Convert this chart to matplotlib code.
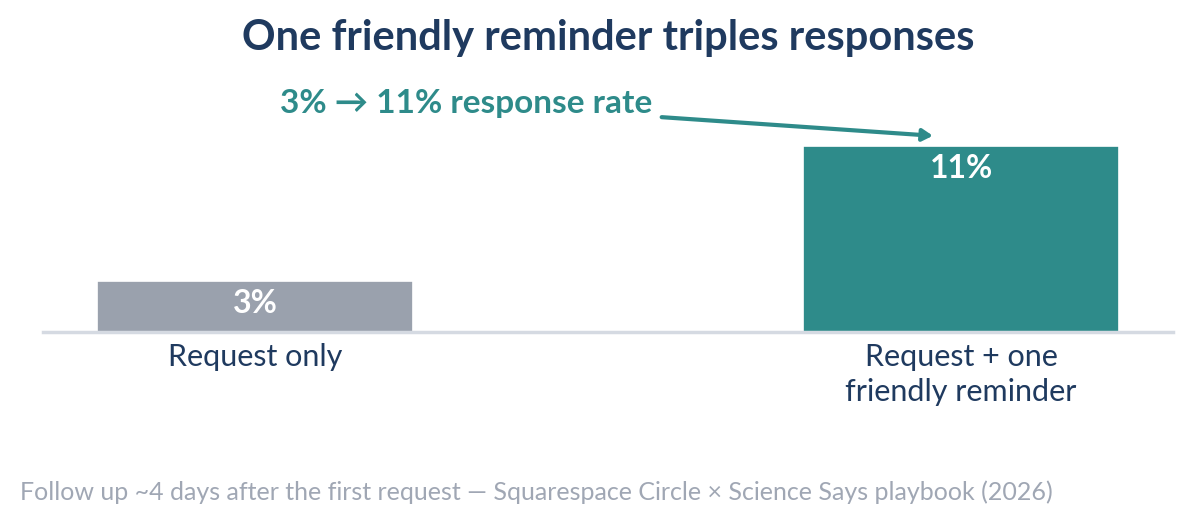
# Bar chart: response rate with / without a friendly reminder
import numpy as np
import matplotlib.pyplot as plt

plt.rcParams['font.family'] = ['Lato', 'DejaVu Sans']

categories = ['Request only', 'Request + one\nfriendly reminder']
rates = [3, 11]  # response rate, %
value_labels = ['3%', '11%']
bar_colors = ['#9aa1ad', '#2e8b8a']

navy = '#1f3a5f'
teal = '#2e8b8a'

fig = plt.figure(figsize=(11.92, 5.24), dpi=100)
W, H = 1192, 524
# axes placed in pixel coords: x 43..1173, baseline at y=332
ax = fig.add_axes([43 / W, (H - 332) / H, (1173 - 43) / W, (332 - 129) / H])

x = np.arange(len(categories))
bars = ax.bar(x, rates, width=0.447, color=bar_colors, edgecolor='white', linewidth=1.2, zorder=2)
ax.set_xlim(-0.3, 1.3)
ax.set_ylim(0, 12)

for spine in ['top', 'right', 'left']:
    ax.spines[spine].set_visible(False)
ax.spines['bottom'].set_color('#d5dae2')
ax.spines['bottom'].set_linewidth(2.5)
ax.set_yticks([])
ax.set_xticks(x)
ax.set_xticklabels(categories, fontsize=22, color=navy, linespacing=1.3)
ax.tick_params(axis='x', length=0, pad=8)

for b, lab in zip(bars, value_labels):
    ax.text(b.get_x() + b.get_width() / 2, b.get_height() - 0.45, lab,
            ha='center', va='top', color='white', fontsize=23, fontweight='bold')

# annotation arrow to the reminder bar
ax.annotate('', xy=(0.96, 11.6), xytext=(0.576, 12.7),
            arrowprops=dict(arrowstyle='-|>,head_length=0.6,head_width=0.35', color=teal, lw=3,
                            shrinkA=0, shrinkB=0), annotation_clip=False)
fig.text(466 / W, 1 - 103 / H, '3% \u2192 11% response rate', ha='center', va='center',
         color=teal, fontsize=24, fontweight='bold')

fig.text(608 / W, 1 - 38 / H, 'One friendly reminder triples responses', ha='center', va='center',
         color=navy, fontsize=30, fontweight='bold')
fig.text(20 / W, 1 - 492 / H,
         'Follow up ~4 days after the first request \u2014 Squarespace Circle \u00d7 Science Says playbook (2026)',
         ha='left', va='center', color='#a0a7b4', fontsize=18)

fig.savefig('out.png', dpi=100, facecolor='white')
